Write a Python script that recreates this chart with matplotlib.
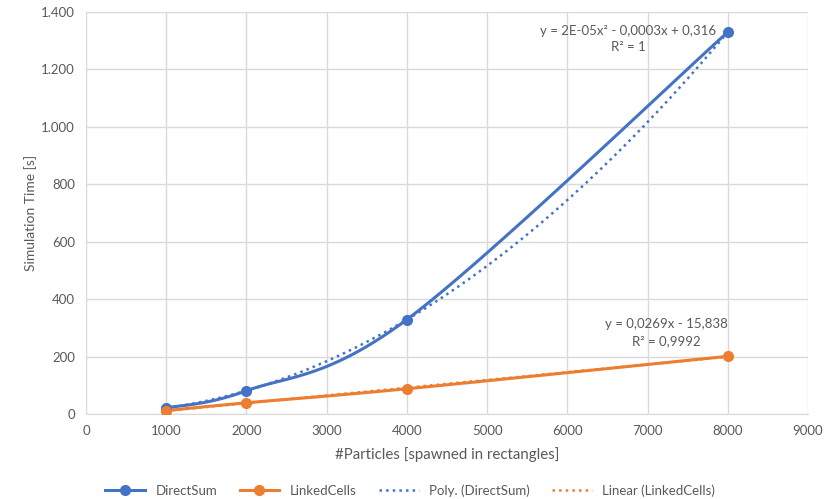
import numpy as np
import matplotlib.pyplot as plt
from matplotlib.ticker import FuncFormatter

particles = [1000, 2000, 4000, 8000]
direct_sum = [21, 81, 329, 1330]
linked_cells = [12, 39, 88, 201]

x_ticks = list(range(0, 9001, 1000))
y_ticks = list(range(0, 1401, 200))

BLUE = "#4472C4"
ORANGE = "#ED7D31"
GRID = "#D9D9D9"
TXT = "#595959"

plt.rcParams['font.family'] = ['Lato', 'DejaVu Sans']


def smooth(xs, ys, n=40):
    # Excel-like smoothed line (Catmull-Rom as cubic Bezier)
    p = np.column_stack([xs, ys]).astype(float)
    pts = np.vstack([p[0], p, p[-1]])
    out = []
    t = np.linspace(0, 1, n)[:, None]
    for i in range(1, len(pts) - 2):
        p0, p1, p2, p3 = pts[i - 1], pts[i], pts[i + 1], pts[i + 2]
        c1 = p1 + (p2 - p0) / 6
        c2 = p2 - (p3 - p1) / 6
        seg = ((1 - t) ** 3) * p1 + 3 * ((1 - t) ** 2) * t * c1 + 3 * (1 - t) * t ** 2 * c2 + t ** 3 * p2
        out.append(seg)
    out = np.vstack(out)
    return out[:, 0], out[:, 1]


fig = plt.figure(figsize=(8.34, 4.99), dpi=100)
ax = fig.add_axes([0.1031, 0.1703, 0.8657, 0.8057])

xs = np.linspace(particles[0], particles[-1], 200)
poly = np.polyfit(particles, direct_sum, 2)
lin = np.polyfit(particles, linked_cells, 1)

sx, sy = smooth(particles, direct_sum)
ax.plot(sx, sy, color=BLUE, lw=2.2, zorder=3)
ax.plot(particles, direct_sum, 'o', color=BLUE, ms=7, zorder=4)
sx, sy = smooth(particles, linked_cells)
ax.plot(sx, sy, color=ORANGE, lw=2.2, zorder=3)
ax.plot(particles, linked_cells, 'o', color=ORANGE, ms=7, zorder=4)

ax.plot(xs, np.polyval(poly, xs), ':', color=BLUE, lw=1.8, zorder=2)
ax.plot(xs, np.polyval(lin, xs), ':', color=ORANGE, lw=1.8, zorder=2)

ax.set_xlim(0, 9000)
ax.set_ylim(0, 1400)
ax.set_xticks(x_ticks)
ax.set_yticks(y_ticks)
ax.yaxis.set_major_formatter(FuncFormatter(lambda v, p: f"{int(v):,}".replace(",", ".")))
ax.grid(True, color=GRID, lw=1)
ax.set_axisbelow(True)
for s in ['top', 'right', 'left']:
    ax.spines[s].set_visible(False)
ax.spines['bottom'].set_color(GRID)
ax.tick_params(length=0, colors=TXT, labelsize=9.5, pad=8)

ax.set_xlabel("#Particles [spawned in rectangles]", color=TXT, fontsize=10.8, labelpad=7)
ax.set_ylabel("Simulation Time [s]", color=TXT, fontsize=10, labelpad=3)

ax.text(6760, 1333, "y = 2E-05x² - 0,0003x + 0,316", ha='center', va='center', color=TXT, fontsize=9.5)
ax.text(6760, 1277, "R² = 1", ha='center', va='center', color=TXT, fontsize=9.5)
ax.text(7240, 315, "y = 0,0269x - 15,838", ha='center', va='center', color=TXT, fontsize=9.5)
ax.text(7240, 252, "R² = 0,9992", ha='center', va='center', color=TXT, fontsize=9.5)

h1, = ax.plot([], [], '-o', color=BLUE, lw=2.2, ms=7)
h2, = ax.plot([], [], '-o', color=ORANGE, lw=2.2, ms=7)
h3, = ax.plot([], [], ':', color=BLUE, lw=1.8)
h4, = ax.plot([], [], ':', color=ORANGE, lw=1.8)
fig.legend([h1, h2, h3, h4], ["DirectSum", "LinkedCells", "Poly. (DirectSum)", "Linear (LinkedCells)"],
           loc='lower center', bbox_to_anchor=(0.492, -0.02), ncol=4, frameon=False,
           fontsize=9.5, labelcolor=TXT, handlelength=3, columnspacing=1.7)

fig.savefig("out.png", dpi=100)
